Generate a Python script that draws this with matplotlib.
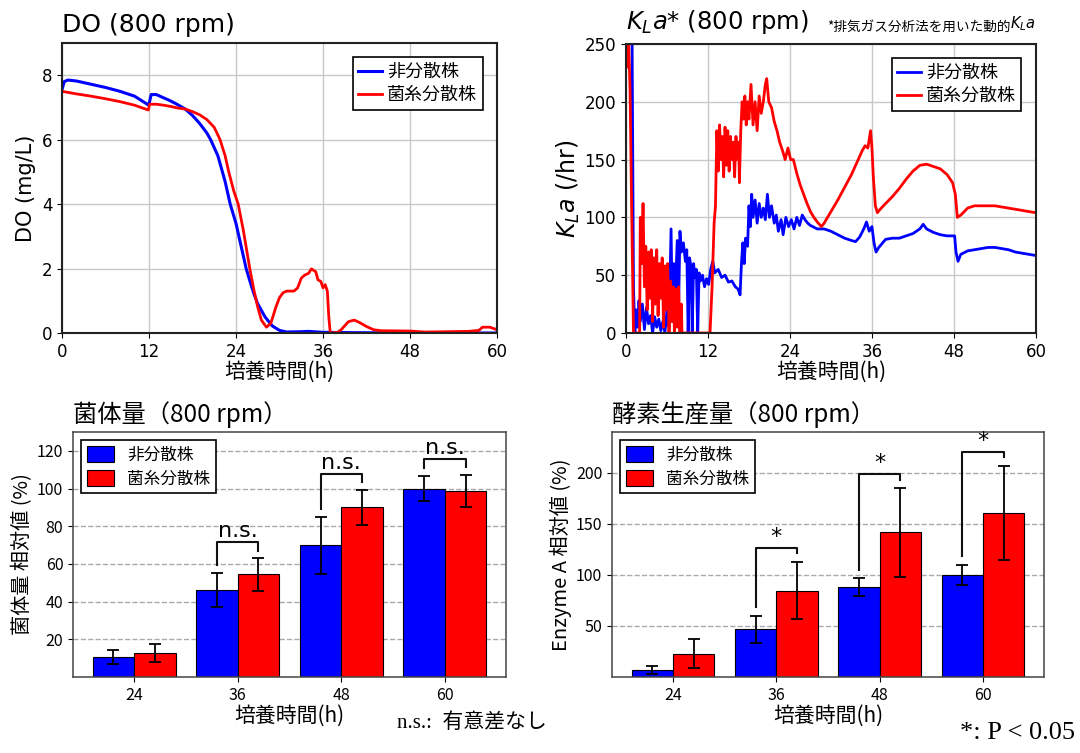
import numpy as np
import matplotlib
matplotlib.use('Agg')
import matplotlib.pyplot as plt

plt.rcParams['font.family'] = ['DejaVu Sans', 'Noto Sans CJK JP']
JP = ['Noto Sans CJK JP', 'DejaVu Sans']

labels = ['非分散株', '菌糸分散株']
blue = '#0000ff'
red = '#ff0000'

# DO (mg/L)
do_blue_t = [0, 0.3, 0.8, 2, 4, 6, 8, 10, 11.9, 12.05, 12.3, 13, 14, 15, 16, 17, 18, 19, 20, 20.5,
             21.5, 22.5, 23.2, 24, 24.5, 25.4, 26, 26.5, 27, 28, 29, 30, 31, 33, 34, 36, 40, 48, 60]
do_blue = [7.55, 7.8, 7.85, 7.82, 7.72, 7.62, 7.5, 7.35, 7.08, 7.15, 7.4, 7.4, 7.3, 7.2, 7.08, 6.95, 6.75, 6.5, 6.2, 6.0,
           5.5, 4.7, 4.0, 3.4, 2.9, 2.0, 1.55, 1.2, 0.9, 0.5, 0.22, 0.08, 0.03, 0.04, 0.05, 0.02, 0.01, 0.0, 0.0]
do_red_t = [0, 2, 4, 6, 8, 10, 11.9, 12.1, 13, 14, 15, 16, 17, 18, 19, 20, 21, 21.8, 22.5, 23, 23.7, 24.3,
            25, 25.9, 26.5, 27, 27.5, 28.2, 28.8, 29.5, 30, 30.5, 31, 32, 32.5, 33, 33.5, 34, 34.4, 35, 35.3,
            35.7, 36, 36.3, 36.6, 36.8, 37, 38, 38.5, 39.5, 40.3, 41, 42, 43, 44, 48, 50, 56, 57.5, 58, 59, 60]
do_red = [7.5, 7.42, 7.35, 7.27, 7.18, 7.07, 6.92, 7.1, 7.1, 7.07, 7.03, 6.98, 6.95, 6.87, 6.77, 6.62, 6.38, 6.0, 5.5, 5.0, 4.4, 4.0,
          3.2, 2.0, 1.3, 0.8, 0.4, 0.18, 0.3, 0.8, 1.1, 1.25, 1.3, 1.3, 1.4, 1.7, 1.8, 1.85, 1.99, 1.9, 1.65,
          1.6, 1.4, 1.5, 1.3, 0.5, 0.0, 0.02, 0.1, 0.35, 0.4, 0.33, 0.2, 0.1, 0.07, 0.06, 0.03, 0.05, 0.08, 0.18, 0.18, 0.1]

# KLa (/hr), (time, value) pairs
kla_blue = np.array([
    (0.5, 260), (0.9, 250), (1.1, 40), (1.3, 0), (1.5, 20), (1.7, 5), (1.9, 28), (2.1, 10), (2.4, 25), (2.7, 3),
    (3.0, 22), (3.3, 8), (3.6, 15), (3.9, 0), (4.2, 14), (4.5, 5), (4.8, 12), (5.1, 2), (5.4, 10), (5.7, 0),
    (6.0, 20), (6.3, 5), (6.6, 90), (6.8, 10), (7.0, 60), (7.2, 30), (7.5, 80), (7.7, 20), (7.9, 88), (8.1, 70),
    (8.4, 78), (8.7, 62), (8.9, 72), (9.1, 0), (9.3, 65), (9.5, 58), (9.7, 0), (9.9, 60), (10.1, 48), (10.3, 55),
    (10.5, 0), (10.7, 52), (10.9, 45), (11.2, 50), (11.5, 40), (11.8, 47), (12.1, 42), (12.4, 55), (12.7, 62),
    (13.0, 52), (13.5, 55), (14.0, 48), (14.5, 50), (15.0, 44), (15.5, 45), (16.0, 40), (16.4, 38), (16.7, 33),
    (16.9, 60), (17.1, 78), (17.3, 60), (17.5, 82), (17.8, 75), (18.0, 110), (18.2, 92), (18.4, 120), (18.6, 100),
    (18.9, 115), (19.2, 95), (19.5, 112), (19.8, 100), (20.1, 108), (20.4, 98), (20.7, 120), (21.0, 100),
    (21.3, 110), (21.7, 95), (22.0, 102), (22.3, 88), (22.7, 98), (23.0, 85), (23.4, 100), (23.8, 92), (24.2, 98),
    (24.6, 90), (25.0, 100), (25.4, 93), (25.8, 102), (26.2, 98), (26.6, 95), (27.0, 93), (28.0, 90), (29.0, 90),
    (30.0, 88), (31.0, 85), (32.0, 82), (33.0, 80), (33.6, 79), (34.2, 83), (34.8, 90), (35.2, 96), (35.6, 88),
    (36.0, 92), (36.3, 78), (36.6, 70), (37.0, 74), (38.0, 81), (39.0, 82), (40.0, 82), (41.0, 84), (42.0, 86),
    (43.0, 90), (43.5, 94), (44.0, 90), (45.0, 87), (46.0, 85), (47.0, 84), (48.1, 84), (48.3, 70), (48.6, 62),
    (49.0, 68), (50.0, 71), (51.0, 72), (52.0, 73), (53.0, 74), (54.0, 74), (55.0, 73), (56.0, 72), (57.0, 70),
    (58.0, 69), (59.0, 68), (60.0, 67)]).T
kla_red = np.array([
    (0.0, 260), (0.2, 230), (0.4, 250), (0.6, 210), (0.8, 120), (1.0, 40), (1.1, 0), (2.0, 0), (2.1, 100),
    (2.3, 60), (2.5, 112), (2.7, 40), (2.9, 75), (3.1, 20), (3.3, 70), (3.5, 30), (3.7, 72), (3.9, 10), (4.1, 65),
    (4.3, 25), (4.5, 72), (4.7, 15), (4.9, 60), (5.1, 30), (5.3, 65), (5.5, 5), (5.7, 58), (5.9, 20), (6.1, 60),
    (6.3, 0), (6.5, 45), (6.7, 10), (6.9, 40), (7.1, 0), (7.3, 38), (7.5, 5), (7.7, 40), (7.9, 0), (8.1, 25),
    (8.2, 0), (12.3, 0), (12.6, 40), (12.9, 95), (13.1, 110), (13.3, 175), (13.5, 140), (13.7, 180), (13.9, 150),
    (14.1, 170), (14.3, 135), (14.5, 178), (14.7, 145), (14.9, 175), (15.1, 140), (15.3, 170), (15.5, 150),
    (15.7, 165), (15.9, 135), (16.1, 170), (16.3, 150), (16.5, 165), (16.6, 130), (16.8, 175), (17.0, 200),
    (17.2, 185), (17.4, 205), (17.6, 180), (17.8, 200), (18.0, 185), (18.3, 215), (18.6, 180), (18.9, 200),
    (19.2, 175), (19.5, 205), (19.8, 190), (20.1, 200), (20.4, 215), (20.6, 220), (20.9, 200), (21.3, 195),
    (21.7, 183), (22.1, 175), (22.5, 165), (22.9, 158), (23.3, 150), (23.7, 160), (24.1, 150), (24.5, 150),
    (25.0, 138), (25.5, 128), (26.0, 120), (26.5, 112), (27.0, 105), (27.5, 100), (28.0, 96), (28.6, 92),
    (29.0, 95), (29.5, 100), (30.0, 105), (31.0, 115), (32.0, 126), (33.0, 137), (34.0, 150), (34.6, 158),
    (35.0, 162), (35.4, 160), (35.8, 175), (36.0, 160), (36.2, 135), (36.5, 110), (36.8, 104), (37.2, 107),
    (38.0, 112), (39.0, 118), (40.0, 125), (41.0, 133), (42.0, 140), (43.0, 145), (44.0, 146), (45.0, 144),
    (46.0, 142), (47.0, 137), (47.8, 130), (48.2, 120), (48.5, 100), (49.0, 102), (49.5, 105), (50.0, 108),
    (51.0, 110), (52.0, 110), (54.0, 110), (56.0, 108), (58.0, 106), (60.0, 104)]).T

# bar charts
hours = ['24', '36', '48', '60']
bio_blue = [10.7, 46.3, 69.8, 100.0]
bio_blue_err = [3.6, 9.1, 15.3, 6.8]
bio_red = [12.8, 54.4, 90.0, 98.8]
bio_red_err = [4.6, 8.6, 9.3, 8.6]
enz_blue = [6.8, 46.8, 88.0, 100.0]
enz_blue_err = [3.6, 13.1, 8.6, 9.7]
enz_red = [23.0, 84.7, 141.6, 160.7]
enz_red_err = [14.0, 28.1, 43.3, 46.1]
sig_groups = [1, 2, 3]

fig = plt.figure(figsize=(10.8, 7.53), dpi=100)

# ---- top: line charts
def line_axes(rect):
    ax = fig.add_axes(rect)
    ax.grid(True, color='#c8c8c8', lw=1)
    ax.set_axisbelow(True)
    for s in ax.spines.values():
        s.set_linewidth(1.5)
        s.set_color('#222222')
    ax.set_xlim(0, 60)
    ax.set_xticks([0, 12, 24, 36, 48, 60])
    ax.tick_params(labelsize=12)
    ax.set_xlabel('培養時間(h)', fontsize=15, family=JP, labelpad=0)
    return ax

ax1 = line_axes([0.0574, 0.5578, 0.4028, 0.3851])
ax1.plot(do_blue_t, do_blue, color=blue, lw=2.2, label=labels[0])
ax1.plot(do_red_t, do_red, color=red, lw=2, label=labels[1])
ax1.set_ylim(0, 9)
ax1.set_yticks([0, 2, 4, 6, 8])
ax1.set_ylabel('DO (mg/L)', fontsize=15)
ax1.set_title('DO (800 rpm)', loc='left', fontsize=18, pad=8)

ax2 = line_axes([0.5796, 0.5578, 0.3796, 0.3838])
ax2.plot(kla_blue[0], kla_blue[1], color=blue, lw=2, label=labels[0])
ax2.plot(kla_red[0], kla_red[1], color=red, lw=2, label=labels[1])
ax2.set_ylim(0, 250)
ax2.set_ylabel(r'$K_La$ (/hr)', fontsize=17, labelpad=2)
ax2.set_title(r'$K_La$* (800 rpm)', loc='left', fontsize=17.5, pad=8)
note = ax2.set_title(r'$K_La$', loc='right', fontsize=10.5, pad=11)
ax2.annotate('*排気ガス分析法を用いた動的', xy=(0, 0), xycoords=note,
             ha='right', va='bottom', fontsize=9.8, family=JP)

for ax in (ax1, ax2):
    ax.legend(loc='upper right', prop={'family': JP, 'size': 13}, fancybox=False,
              edgecolor='black', framealpha=1, handlelength=1.3, handletextpad=0.3,
              borderaxespad=0.8, borderpad=0.3, labelspacing=0.3).get_frame().set_linewidth(1.2)

# ---- bottom: bar charts
def bar_axes(rect, vb, eb, vr, er, ylim, yticks, title, ylabel, mark, gap, top_add):
    ax = fig.add_axes(rect)
    x = np.arange(len(hours))
    w = 0.4
    ekw = dict(elinewidth=1.3, capthick=1.3, ecolor='black')
    ax.bar(x - w / 2, vb, w, yerr=eb, color=blue, edgecolor='black', lw=0.8,
           capsize=4.5, error_kw=ekw, label=labels[0])
    ax.bar(x + w / 2, vr, w, yerr=er, color=red, edgecolor='black', lw=0.8,
           capsize=4.5, error_kw=ekw, label=labels[1])
    ax.set_ylim(*ylim)
    ax.set_yticks(yticks)
    ax.set_xticks(x)
    ax.set_xticklabels(hours)
    ax.yaxis.grid(True, ls='--', color='#aaaaaa', lw=1)
    ax.set_axisbelow(True)
    for s in ax.spines.values():
        s.set_color('#444444')
        s.set_linewidth(1.1)
    ax.tick_params(labelsize=11.5, labelfontfamily='Noto Sans CJK JP')
    ax.set_xlabel('培養時間(h)', fontsize=15, family=JP, labelpad=1)
    ax.set_ylabel(ylabel, fontsize=14.5, family=JP, labelpad=3)
    ax.set_title(title, loc='left', fontsize=17.5, family=JP, pad=7)
    for i in sig_groups:
        yl = vb[i] + eb[i] + gap
        yr = vr[i] + er[i] + gap
        top = max(vb[i] + eb[i], vr[i] + er[i]) + top_add
        ax.plot([i - w / 2, i - w / 2, i + w / 2, i + w / 2], [yl, top, top, yr],
                color='#111111', lw=1.5)
        ax.text(i, top + ylim[1] * 0.004, mark, ha='center', va='bottom', fontsize=16)
    ax.legend(loc='upper left', prop={'family': JP, 'size': 12}, fancybox=False,
              edgecolor='black', framealpha=1, handlelength=1.6, handleheight=1.1,
              borderaxespad=0.5, borderpad=0.35, labelspacing=0.35).get_frame().set_linewidth(1.2)
    return ax

bar_axes([0.0676, 0.1009, 0.4009, 0.3254], bio_blue, bio_blue_err, bio_red, bio_red_err,
         (0, 130), [20, 40, 60, 80, 100, 120], '菌体量（800 rpm）', '菌体量 相対値 (%)',
         'n.s.', 4, 8.5)
bar_axes([0.5667, 0.1009, 0.4, 0.3254], enz_blue, enz_blue_err, enz_red, enz_red_err,
         (0, 240), [50, 100, 150, 200], '酵素生産量（800 rpm）', 'Enzyme A 相対値 (%)',
         '*', 8.5, 14)

serif = ['Liberation Serif', 'Noto Sans CJK JP']
fig.text(0.368, 0.040, 'n.s.:  有意差なし', fontsize=15, family=serif, va='center')
fig.text(0.995, 0.026, '*: P < 0.05', fontsize=19, family=serif, va='center', ha='right')

fig.savefig('out.png', dpi=100)
